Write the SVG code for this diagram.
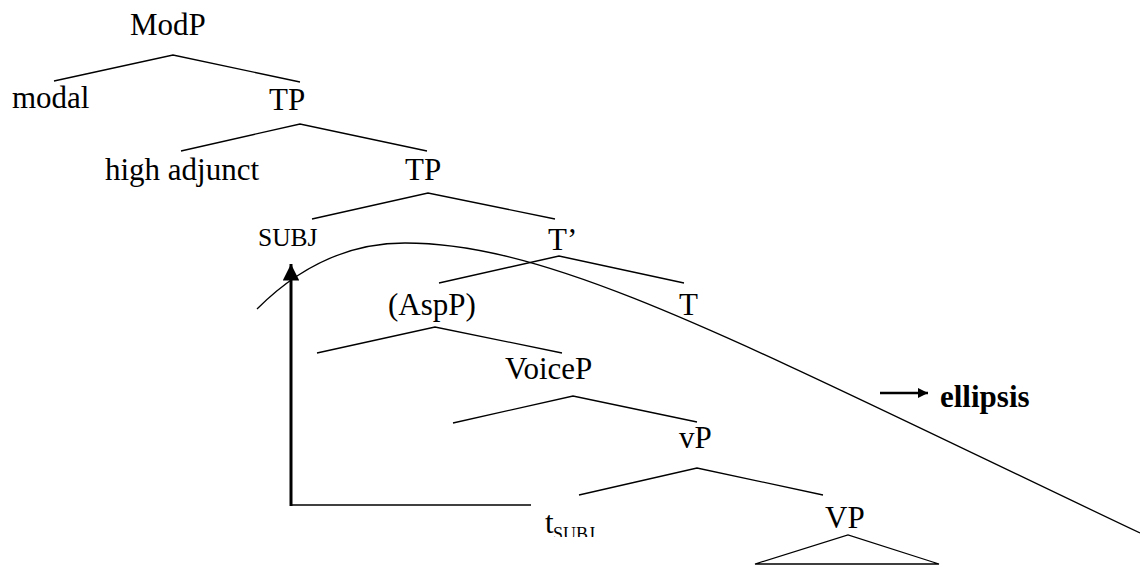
<svg xmlns="http://www.w3.org/2000/svg" width="1140" height="565" viewBox="0 0 1140 565" font-family="'Liberation Serif', 'Times New Roman', 'DejaVu Serif', serif">
<style>
text{font-family:'Liberation Serif','Times New Roman','DejaVu Serif',serif;font-size:31px;fill:#000}
.sc{font-size:25.5px}
.sub{font-size:18px}
.b{font-weight:bold}
.e{stroke:#000;stroke-width:1.3;fill:none}
</style>
<defs>
<marker id="ah" viewBox="0 0 10 10" refX="10" refY="5" markerWidth="5.5" markerHeight="5.5" markerUnits="strokeWidth" orient="auto"><path d="M0,0 L10,5 L0,10 z" fill="#000"/></marker>
<marker id="ah2" viewBox="0 0 10 10" refX="10" refY="5" markerWidth="4.5" markerHeight="4" markerUnits="strokeWidth" orient="auto"><path d="M0,0 L10,5 L0,10 z" fill="#000"/></marker>
<clipPath id="cp"><rect x="0" y="0" width="1140" height="537"/></clipPath>
</defs>
<rect width="1140" height="565" fill="#fff"/>
<g id="connectors">
<polyline class="e" points="54,81 173,55 300,82"/>
<polyline class="e" points="181,151 300,124 427,151"/>
<polyline class="e" points="312,219 428,193 555,219"/>
<polyline class="e" points="439,283 559,256 684,283"/>
<polyline class="e" points="317,353 435,327 562,353"/>
<polyline class="e" points="453,423 573,396 697,422"/>
<polyline class="e" points="579,495 697,468 823,495"/>
<path class="e" d="M755,564 L848,535 L939,564 Z"/>
<path class="e" d="M257,309 C300,266 350,243 405,243 C555,243 740,343 1140,533"/>
<polyline class="e" points="531,505 291,505"/>
<line x1="291" y1="506" x2="291" y2="264" stroke="#000" stroke-width="3" marker-end="url(#ah)"/>
<line x1="880" y1="393" x2="928" y2="393" stroke="#000" stroke-width="2.5" marker-end="url(#ah2)"/>
</g>
<g id="n-modp"><text x="130" y="35">ModP</text></g>
<g id="n-modal"><text x="12" y="108">modal</text></g>
<g id="n-tp1"><text x="269" y="110">TP</text></g>
<g id="n-high"><text x="105" y="180">high adjunct</text></g>
<g id="n-tp2"><text x="405" y="180">TP</text></g>
<g id="n-subj"><text class="sc" x="258" y="246">SUBJ</text></g>
<g id="n-tbar"><text x="548" y="250">T’</text></g>
<g id="n-aspp"><text x="388" y="315">(AspP)</text></g>
<g id="n-t"><text x="679" y="315">T</text></g>
<g id="n-voicep"><text x="505" y="379">VoiceP</text></g>
<g id="n-vp"><text x="679" y="448">vP</text></g>
<g id="n-trace"><text x="545" y="533" clip-path="url(#cp)">t<tspan class="sub" x="553" y="540">SUBJ</tspan></text></g>
<g id="n-VP"><text x="825" y="528">VP</text></g>
<g id="n-ellipsis"><text class="b" x="940" y="407">ellipsis</text></g>
</svg>
